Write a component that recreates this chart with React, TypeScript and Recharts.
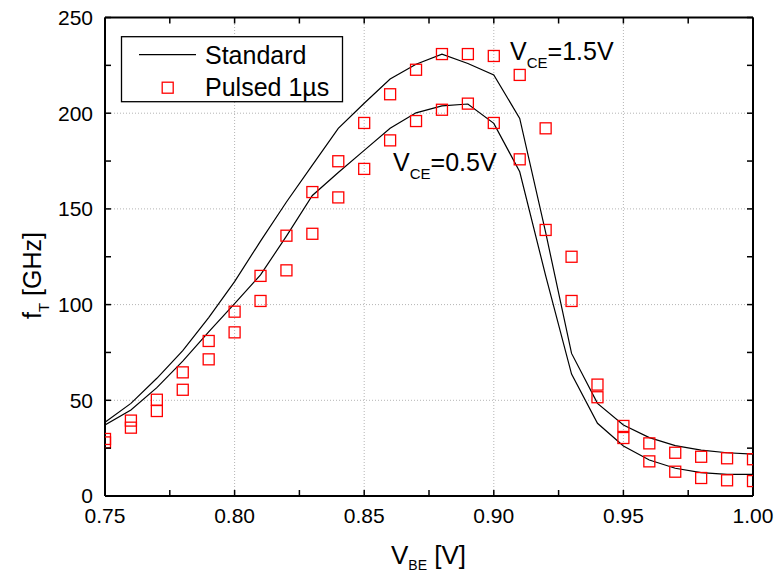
import React from 'react';
import { ComposedChart, Line, Scatter, XAxis, YAxis, ReferenceLine } from 'recharts';

const vbe = [0.75, 0.76, 0.77, 0.78, 0.79, 0.8, 0.81, 0.82, 0.83, 0.84, 0.85, 0.86, 0.87, 0.88, 0.89, 0.9, 0.91, 0.92, 0.93, 0.94, 0.95, 0.96, 0.97, 0.98, 0.99, 1.0];
const standard15 = [38.5, 48.4, 61.5, 75.9, 93.2, 112, 133.2, 153.6, 172.9, 192.1, 205.2, 217.9, 225.6, 230.8, 226, 220, 197.3, 137.7, 74.5, 48.4, 37.1, 30.5, 26.3, 24, 22.6, 21.9];
const standard05 = [37.1, 44.9, 56.6, 70.5, 85.8, 100.5, 115.5, 135.8, 157, 169, 180.6, 192.1, 200.2, 203.8, 204.8, 194.7, 169.4, 115.1, 63.7, 38, 26.1, 18.8, 14.5, 12.2, 11.3, 11.3];
const pulsed15 = [29.8, 39.4, 50.3, 64.6, 81, 96.3, 115, 136, 158.8, 174.9, 194.9, 209.9, 222.7, 230.9, 230.9, 229.9, 220, 192.1, 125, 58.2, 36.6, 27.5, 22.6, 20.5, 19.7, 19.2];
const pulsed05 = [28, 35.7, 44.4, 55.5, 71.4, 85.5, 101.9, 117.9, 137, 156, 170.9, 185.8, 195.9, 201.8, 205, 194.9, 175.9, 139, 101.9, 51.6, 30.3, 18.1, 12.7, 9.4, 8.2, 7.8];

const xMajorTicks = [0.75, 0.8, 0.85, 0.9, 0.95, 1.0];
const xMinorTicks = [0.775, 0.825, 0.875, 0.925, 0.975];
const yMajorTicks = [0, 50, 100, 150, 200, 250];
const yMinorTicks = [25, 75, 125, 175, 225];
const xGrid = [0.8, 0.85, 0.9, 0.95];
const yGrid = [50, 100, 150, 200];

const rows = vbe.map((v, i) => ({ v, s15: standard15[i], s05: standard05[i], p15: pulsed15[i], p05: pulsed05[i] }));
const xTicks = [...xMajorTicks, ...xMinorTicks].sort((a, b) => a - b);
const yTicks = [...yMajorTicks, ...yMinorTicks].sort((a, b) => a - b);

const FONT = '"Liberation Sans", Arial, sans-serif';
const TICK = 6;
const isMajor = (v: number, majors: number[]) => majors.some((m) => Math.abs(m - v) < 1e-6);

const BottomTick = (p: any) => {
  const { x, y, payload } = p;
  const major = isMajor(payload.value, xMajorTicks);
  return (
    <g>
      <line x1={x} x2={x} y1={y} y2={y - TICK} stroke="#000" strokeWidth={1.5} />
      {major && (
        <text x={x} y={y + 27} textAnchor="middle" fontSize={21} fontFamily={FONT} fill="#000">
          {Number(payload.value).toFixed(2)}
        </text>
      )}
    </g>
  );
};
const TopTick = (p: any) => {
  const { x, y } = p;
  return <line x1={x} x2={x} y1={y} y2={y + TICK} stroke="#000" strokeWidth={1.5} />;
};
const LeftTick = (p: any) => {
  const { x, y, payload } = p;
  const major = isMajor(payload.value, yMajorTicks);
  return (
    <g>
      <line x1={x} x2={x + TICK} y1={y} y2={y} stroke="#000" strokeWidth={1.5} />
      {major && (
        <text x={x - 12} y={y + 7.3} textAnchor="end" fontSize={21} fontFamily={FONT} fill="#000">
          {payload.value}
        </text>
      )}
    </g>
  );
};
const RightTick = (p: any) => {
  const { x, y } = p;
  return <line x1={x} x2={x - TICK} y1={y} y2={y} stroke="#000" strokeWidth={1.5} />;
};

const Square = (p: any) => {
  const { cx, cy } = p;
  if (cx == null || cy == null) return null;
  return <rect x={cx - 5.5} y={cy - 5.5} width={11} height={11} fill="none" stroke="#ff0000" strokeWidth={1.3} />;
};

const axisLine = { stroke: '#000', strokeWidth: 2 };

export default function App() {
  return (
    <div style={{ position: 'absolute', left: 0, top: 0, width: 782, height: 573, background: '#fff' }}>
      <ComposedChart width={782} height={573} data={rows} margin={{ top: 0, right: 0, bottom: 0, left: 0 }}>
        <XAxis xAxisId="b" dataKey="v" type="number" domain={[0.75, 1.0]} ticks={xTicks} interval={0}
          orientation="bottom" height={77} tickSize={0} tickMargin={0} tickLine={false} axisLine={axisLine}
          tick={<BottomTick />} allowDataOverflow />
        <XAxis xAxisId="t" dataKey="v" type="number" domain={[0.75, 1.0]} ticks={xTicks} interval={0}
          orientation="top" height={17.5} tickSize={0} tickMargin={0} tickLine={false} axisLine={axisLine}
          tick={<TopTick />} allowDataOverflow />
        <YAxis yAxisId="l" type="number" domain={[0, 250]} ticks={yTicks} interval={0}
          orientation="left" width={105} tickSize={0} tickMargin={0} tickLine={false} axisLine={axisLine}
          tick={<LeftTick />} allowDataOverflow />
        <YAxis yAxisId="r" type="number" domain={[0, 250]} ticks={yTicks} interval={0}
          orientation="right" width={29} tickSize={0} tickMargin={0} tickLine={false} axisLine={axisLine}
          tick={<RightTick />} allowDataOverflow />
        {xGrid.map((g) => (
          <ReferenceLine key={'xg' + g} x={g} xAxisId="b" yAxisId="l" stroke="#b4b4b4" strokeWidth={1} strokeDasharray="1 2" />
        ))}
        {yGrid.map((g) => (
          <ReferenceLine key={'yg' + g} y={g} xAxisId="b" yAxisId="l" stroke="#b4b4b4" strokeWidth={1} strokeDasharray="1 2" />
        ))}
        <Line xAxisId="b" yAxisId="l" dataKey="s15" type="linear" stroke="#000" strokeWidth={1.2} dot={false} activeDot={false} isAnimationActive={false} />
        <Line xAxisId="b" yAxisId="l" dataKey="s05" type="linear" stroke="#000" strokeWidth={1.2} dot={false} activeDot={false} isAnimationActive={false} />
        <Scatter xAxisId="b" yAxisId="l" data={rows} dataKey="p15" shape={<Square />} isAnimationActive={false} />
        <Scatter xAxisId="b" yAxisId="l" data={rows} dataKey="p05" shape={<Square />} isAnimationActive={false} />
      </ComposedChart>
      <svg width={782} height={573} style={{ position: 'absolute', left: 0, top: 0, pointerEvents: 'none' }}>
        <g fontFamily={FONT} fill="#000">
          <rect x={121.5} y={36.7} width={221} height={65} fill="#fff" stroke="#000" strokeWidth={1.3} />
          <line x1={139} x2={196} y1={54.7} y2={54.7} stroke="#000" strokeWidth={1.2} />
          <text x={205} y={64} fontSize={25}>Standard</text>
          <rect x={162.2} y={82.2} width={11} height={11} fill="none" stroke="#ff0000" strokeWidth={1.3} />
          <text x={205} y={96} fontSize={25}>Pulsed 1µs</text>

          <text x={510} y={60} fontSize={25}>
            V<tspan fontSize={15} dy={8}>CE</tspan><tspan dy={-8}>=1.5V</tspan>
          </text>
          <text x={393} y={170.5} fontSize={25}>
            V<tspan fontSize={15} dy={8}>CE</tspan><tspan dy={-8}>=0.5V</tspan>
          </text>

          <text x={391} y={564} fontSize={26}>
            V<tspan fontSize={14} dy={5.5}>BE</tspan><tspan dy={-5.5}> [V]</tspan>
          </text>
          <text transform="rotate(-90)" x={-319} y={41} fontSize={25}>
            f<tspan fontSize={15} dy={7.5}>T</tspan><tspan dy={-7.5}> [GHz]</tspan>
          </text>
        </g>
      </svg>
    </div>
  );
}
